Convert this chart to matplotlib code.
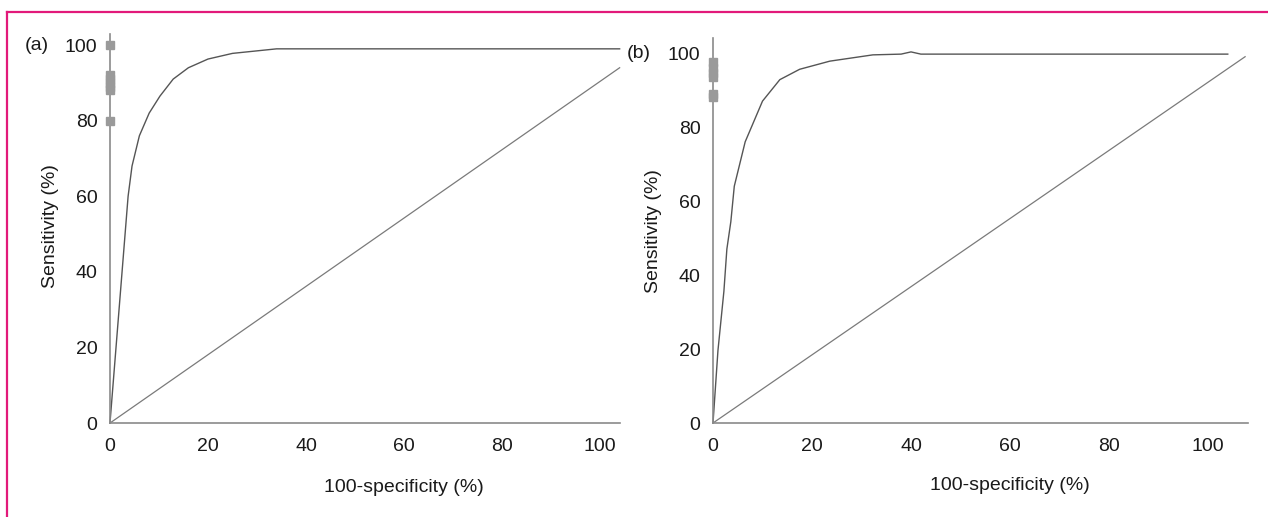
import matplotlib.pyplot as plt
from matplotlib.lines import Line2D

plt.rcParams['font.family'] = ['Liberation Sans', 'DejaVu Sans']

# --- data ---
ticks = [0, 20, 40, 60, 80, 100]

# panel (a)
roc_a_fpr = [0, 3.7, 4.5, 6, 8, 10.2, 12.9, 16, 20, 25, 34, 104]
roc_a_tpr = [0, 60, 68, 76, 82, 86.5, 91, 94, 96.3, 97.8, 99, 99]
diag_a_x = [0, 104]
diag_a_y = [0, 94]
marks_a = [100, 92, 91, 90, 89, 88, 80]

# panel (b)
roc_b_fpr = [0, 1.0, 2.2, 2.8, 3.6, 4.3, 6.5, 10, 13.5, 17.5, 23.6, 32.3, 38, 40, 42, 104]
roc_b_tpr = [0, 19.6, 35.6, 47, 54.4, 64, 76, 87, 92.8, 95.6, 97.8, 99.5, 99.7, 100.3, 99.7, 99.7]
diag_b_x = [0, 107.5]
diag_b_y = [0, 99]
marks_b = [97.5, 96, 94.5, 93.5, 89, 88]

fig = plt.figure(figsize=(12.68, 5.17), dpi=100)

# pink frame (top and left)
fig.add_artist(Line2D([0.0055, 1], [0.977, 0.977], color='#e2197a', lw=1.6))
fig.add_artist(Line2D([0.0055, 0.0055], [0, 0.977], color='#e2197a', lw=1.6))


def roc_panel(rect, xlim, ylim, fpr, tpr, dx, dy, marks, xend, yend, tag):
    ax = fig.add_axes(rect)
    ax.plot(dx, dy, color='#7a7a7a', lw=0.9)
    ax.plot(fpr, tpr, color='#555555', lw=1.0)
    ax.plot([0] * len(marks), marks, ls='none', marker='s', ms=6,
            color='#9a9a9a', clip_on=False, zorder=5)
    ax.set_xlim(*xlim)
    ax.set_ylim(*ylim)
    for s in ['top', 'right']:
        ax.spines[s].set_visible(False)
    ax.spines['left'].set_position(('data', 0))
    ax.spines['bottom'].set_position(('data', 0))
    ax.spines['left'].set_bounds(0, yend)
    ax.spines['bottom'].set_bounds(0, xend)
    for s in ['left', 'bottom']:
        ax.spines[s].set_color('#8a8a8a')
        ax.spines[s].set_linewidth(1.2)
    ax.set_xticks(ticks)
    ax.set_yticks(ticks)
    ax.tick_params(axis='both', length=0, labelsize=14, colors='#1a1a1a')
    ax.tick_params(axis='y', pad=9)
    ax.tick_params(axis='x', pad=11)
    ax.set_ylabel('Sensitivity (%)', fontsize=14, color='#1a1a1a', labelpad=4)
    ax.text(60, -17, '100-specificity (%)', fontsize=14, color='#1a1a1a',
            ha='center', va='center')
    ax.text(-12.5, 100, tag, fontsize=14, color='#1a1a1a', ha='right', va='center')
    return ax


ax_a = roc_panel([0.0790, 0.1671, 0.4174, 0.7896], (-2, 106), (-2, 106),
                 roc_a_fpr, roc_a_tpr, diag_a_x, diag_a_y, marks_a, 104, 103, '(a)')
ax_b = roc_panel([0.5545, 0.1675, 0.4372, 0.7729], (-2, 110), (-2, 106),
                 roc_b_fpr, roc_b_tpr, diag_b_x, diag_b_y, marks_b, 108, 104, '(b)')

fig.savefig('out.png', dpi=100)
